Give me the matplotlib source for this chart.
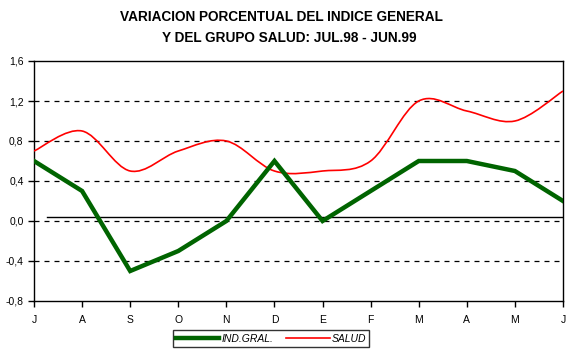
import matplotlib
matplotlib.use("Agg")
import matplotlib.pyplot as plt
from matplotlib.path import Path
from matplotlib.patches import PathPatch
from matplotlib.lines import Line2D
import numpy as np

plt.rcParams['font.family'] = ['Liberation Sans', 'DejaVu Sans']

months = ['J', 'A', 'S', 'O', 'N', 'D', 'E', 'F', 'M', 'A', 'M', 'J']
ind_gral = [0.6, 0.3, -0.5, -0.3, 0.0, 0.6, 0.0, 0.3, 0.6, 0.6, 0.5, 0.2]
salud = [0.7, 0.9, 0.5, 0.7, 0.8, 0.5, 0.5, 0.6, 1.2, 1.1, 1.0, 1.3]
yticks = [-0.8, -0.4, 0.0, 0.4, 0.8, 1.2, 1.6]
ytick_labels = ['-0,8', '-0,4', '0,0', '0,4', '0,8', '1,2', '1,6']
ref_line = 0.04

fig = plt.figure(figsize=(5.76, 3.5), dpi=100)
ax = fig.add_axes([34/576, 49/350, (563-34)/576, (301-61)/350])

x = np.arange(len(months))

# dashed grid
for yv in [-0.4, 0.0, 0.4, 0.8, 1.2]:
    ax.axhline(yv, color='black', lw=0.9, ls=(0, (4, 4)), zorder=1)

# solid reference line
ax.plot([0.27, 11], [ref_line, ref_line], color='black', lw=1.0, zorder=2)

# smoothed SALUD line (Catmull-Rom -> cubic Bezier)
pts = np.column_stack([x, salud]).astype(float)
verts = [tuple(pts[0])]
codes = [Path.MOVETO]
n = len(pts)
for i in range(n - 1):
    p0 = pts[i - 1] if i > 0 else pts[i]
    p1 = pts[i]
    p2 = pts[i + 1]
    p3 = pts[i + 2] if i + 2 < n else pts[i + 1]
    c1 = p1 + (p2 - p0) / 6.0
    c2 = p2 - (p3 - p1) / 6.0
    verts += [tuple(c1), tuple(c2), tuple(p2)]
    codes += [Path.CURVE4, Path.CURVE4, Path.CURVE4]
patch = PathPatch(Path(verts, codes), facecolor='none', edgecolor='#ff0000', lw=1.2, zorder=3)
ax.add_patch(patch)

# IND.GRAL line
ax.plot(x, ind_gral, color='#006400', lw=3.2, zorder=4, solid_joinstyle='miter')

ax.set_xlim(0, 11)
ax.set_ylim(-0.8, 1.6)
ax.set_yticks(yticks)
ax.set_yticklabels(ytick_labels)
ax.set_xticks(x)
ax.set_xticklabels(months)
ax.tick_params(axis='both', direction='out', length=4, width=1, colors='black', labelsize=7.5)
ax.tick_params(axis='x', pad=6)
for s in ax.spines.values():
    s.set_linewidth(1.0)
    s.set_color('black')

fig.text(0.488, 0.951, 'VARIACION PORCENTUAL DEL INDICE GENERAL', ha='center', va='center',
         fontsize=9.8, fontweight='bold')
fig.text(0.503, 0.891, 'Y DEL GRUPO SALUD: JUL.98 - JUN.99', ha='center', va='center',
         fontsize=9.8, fontweight='bold')

handles = [Line2D([], [], color='#006400', lw=3.2), Line2D([], [], color='#ff0000', lw=1.2)]
leg = fig.legend(handles, ['IND.GRAL.', 'SALUD'], loc='center', bbox_to_anchor=(271/576, 11.5/350),
                 ncol=2, frameon=True, fancybox=False, prop={'style': 'italic', 'size': 7.5},
                 handlelength=4.2, handletextpad=0.2, columnspacing=1.2, borderpad=0.3,
                 borderaxespad=0)
leg.get_frame().set_edgecolor('black')
leg.get_frame().set_linewidth(1.0)

fig.savefig('out.png', dpi=100, facecolor='white')
